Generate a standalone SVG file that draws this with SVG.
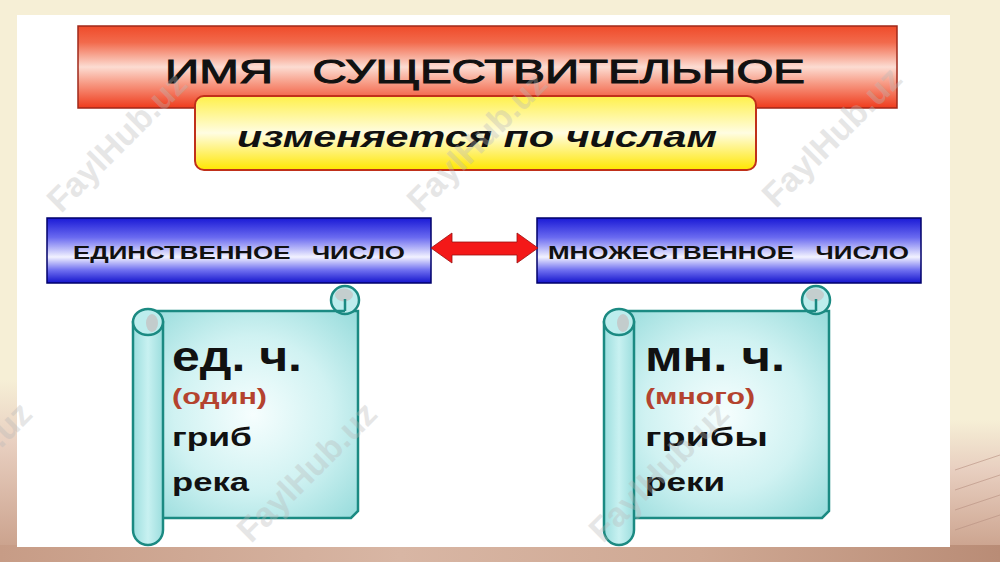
<svg xmlns="http://www.w3.org/2000/svg" xmlns:xlink="http://www.w3.org/1999/xlink" width="1000" height="562" viewBox="0 0 1000 562">
<defs>
<style>
.t{font-family:"Liberation Sans",Arial,sans-serif;fill:#111;}
.b{font-weight:bold;}
.red{fill:#b4432f;}
.wm{font-family:"Liberation Sans",Arial,sans-serif;font-weight:bold;font-size:34px;fill:#b8b8b8;opacity:0.35;}
.teal{stroke:#1b8a82;stroke-width:2.5;}
</style>
<linearGradient id="gRed" x1="0" y1="0" x2="0" y2="1">
<stop offset="0" stop-color="#ef4b2a"/>
<stop offset="0.2" stop-color="#f26a4c"/>
<stop offset="0.5" stop-color="#fcdcd2"/>
<stop offset="0.7" stop-color="#f79a84"/>
<stop offset="1" stop-color="#ef3b1c"/>
</linearGradient>
<linearGradient id="gYel" x1="0" y1="0" x2="0" y2="1">
<stop offset="0" stop-color="#fff04a"/>
<stop offset="0.5" stop-color="#fffde2"/>
<stop offset="1" stop-color="#ffe600"/>
</linearGradient>
<linearGradient id="gBlue" x1="0" y1="0" x2="0" y2="1">
<stop offset="0" stop-color="#1a1ad6"/>
<stop offset="0.3" stop-color="#6a6af0"/>
<stop offset="0.6" stop-color="#f2f2ff"/>
<stop offset="0.8" stop-color="#7070f0"/>
<stop offset="1" stop-color="#1414cc"/>
</linearGradient>
<radialGradient id="gBody" cx="0.5" cy="0.5" r="0.75">
<stop offset="0" stop-color="#f6fefe"/>
<stop offset="0.5" stop-color="#d0f2f2"/>
<stop offset="1" stop-color="#8ed8d8"/>
</radialGradient>
<linearGradient id="gRoll" x1="0" y1="0" x2="1" y2="0">
<stop offset="0" stop-color="#9cdede"/>
<stop offset="0.5" stop-color="#c8f1f1"/>
<stop offset="1" stop-color="#9cdede"/>
</linearGradient>
<linearGradient id="gBottom" x1="0" y1="0" x2="1" y2="0">
<stop offset="0" stop-color="#c79c86"/>
<stop offset="0.4" stop-color="#d8b6a4"/>
<stop offset="0.7" stop-color="#cfa893"/>
<stop offset="1" stop-color="#b98c76"/>
</linearGradient>
<linearGradient id="gLeft" x1="0" y1="0" x2="0" y2="1">
<stop offset="0" stop-color="#f6efd6"/>
<stop offset="0.35" stop-color="#e8cfc0"/>
<stop offset="1" stop-color="#c79c86"/>
</linearGradient>
<g id="scrollShape">
<path class="teal" d="M148,311 H358 V511 L351,518 H150 Z" fill="url(#gBody)"/>
<circle class="teal" cx="345" cy="300" r="14" fill="#bdeded"/>
<ellipse cx="344" cy="295" rx="9" ry="6.5" fill="#c4cece"/>
<path class="teal" d="M345,299 V311 M336,311 H345" fill="none" stroke-width="2"/>
<path class="teal" d="M133,322 V530 A15,15 0 0 0 163,530 V322 Z" fill="url(#gRoll)"/>
<ellipse class="teal" cx="148" cy="322" rx="15" ry="13" fill="#bdeded"/>
<ellipse cx="152" cy="323" rx="6" ry="9" fill="#c3cccc"/>
</g>
</defs>

<g id="background">
<rect width="1000" height="562" fill="#f6efd6"/>
<rect x="0" y="380" width="17" height="182" fill="url(#gLeft)"/>
<rect x="950" y="420" width="50" height="142" fill="url(#gLeft)"/>
<path d="M955,470 L1000,455 M955,490 L1000,475 M955,510 L1000,495 M955,530 L1000,515" stroke="#b89080" stroke-width="1" fill="none" opacity="0.6"/>
<rect x="0" y="545" width="1000" height="17" fill="url(#gBottom)"/>
<rect x="17" y="15" width="933" height="532" fill="#ffffff"/>
</g>

<g id="title">
<rect x="78" y="26" width="819" height="82" fill="url(#gRed)" stroke="#a0281a" stroke-width="1.5"/>
<text class="t" x="165" y="83" font-size="33" stroke="#111" stroke-width="1" textLength="640" lengthAdjust="spacingAndGlyphs" xml:space="preserve">ИМЯ   СУЩЕСТВИТЕЛЬНОЕ</text>
</g>

<g id="subtitle">
<rect x="195" y="96" width="561" height="74" rx="9" fill="url(#gYel)" stroke="#c0301a" stroke-width="2"/>
<text class="t b" x="237" y="147" font-size="29" font-style="italic" textLength="480" lengthAdjust="spacingAndGlyphs">изменяется по числам</text>
</g>

<g id="singular">
<rect x="47" y="218" width="384" height="65" fill="url(#gBlue)" stroke="#00006a" stroke-width="1.5"/>
<text class="t b" x="73" y="259" font-size="19" textLength="332" lengthAdjust="spacingAndGlyphs" xml:space="preserve">ЕДИНСТВЕННОЕ   ЧИСЛО</text>
</g>

<g id="plural">
<rect x="537" y="218" width="384" height="65" fill="url(#gBlue)" stroke="#00006a" stroke-width="1.5"/>
<text class="t b" x="548" y="259" font-size="19" textLength="361" lengthAdjust="spacingAndGlyphs" xml:space="preserve">МНОЖЕСТВЕННОЕ   ЧИСЛО</text>
</g>

<g id="connectors">
<path d="M431,248 L452,233 L452,242 L517,242 L517,233 L538,248 L517,263 L517,255 L452,255 L452,263 Z" fill="#f41818" stroke="#9a1010" stroke-width="0.8" stroke-linejoin="round"/>
</g>

<g id="scroll-singular">
<use xlink:href="#scrollShape" href="#scrollShape"/>
<text class="t b" x="172" y="371" font-size="42" textLength="130" lengthAdjust="spacingAndGlyphs">ед. ч.</text>
<text class="t b red" x="172" y="404" font-size="22" textLength="95" lengthAdjust="spacingAndGlyphs">(один)</text>
<text class="t b" x="172" y="446" font-size="26" textLength="80" lengthAdjust="spacingAndGlyphs">гриб</text>
<text class="t b" x="172" y="491" font-size="26" textLength="77" lengthAdjust="spacingAndGlyphs">река</text>
</g>

<g id="scroll-plural">
<use xlink:href="#scrollShape" href="#scrollShape" transform="translate(471,0)"/>
<text class="t b" x="645" y="371" font-size="42" textLength="140" lengthAdjust="spacingAndGlyphs">мн. ч.</text>
<text class="t b red" x="645" y="404" font-size="22" textLength="110" lengthAdjust="spacingAndGlyphs">(много)</text>
<text class="t b" x="645" y="446" font-size="26" textLength="123" lengthAdjust="spacingAndGlyphs">грибы</text>
<text class="t b" x="645" y="491" font-size="26" textLength="80" lengthAdjust="spacingAndGlyphs">реки</text>
</g>

<g id="watermarks">
<text class="wm" text-anchor="middle" transform="translate(125,150) rotate(-45)">FaylHub.uz</text>
<text class="wm" text-anchor="middle" transform="translate(485,150) rotate(-45)">FaylHub.uz</text>
<text class="wm" text-anchor="middle" transform="translate(840,145) rotate(-45)">FaylHub.uz</text>
<text class="wm" text-anchor="middle" transform="translate(-30,480) rotate(-45)">FaylHub.uz</text>
<text class="wm" text-anchor="middle" transform="translate(315,480) rotate(-45)">FaylHub.uz</text>
<text class="wm" text-anchor="middle" transform="translate(667,480) rotate(-45)">FaylHub.uz</text>
</g>
</svg>
